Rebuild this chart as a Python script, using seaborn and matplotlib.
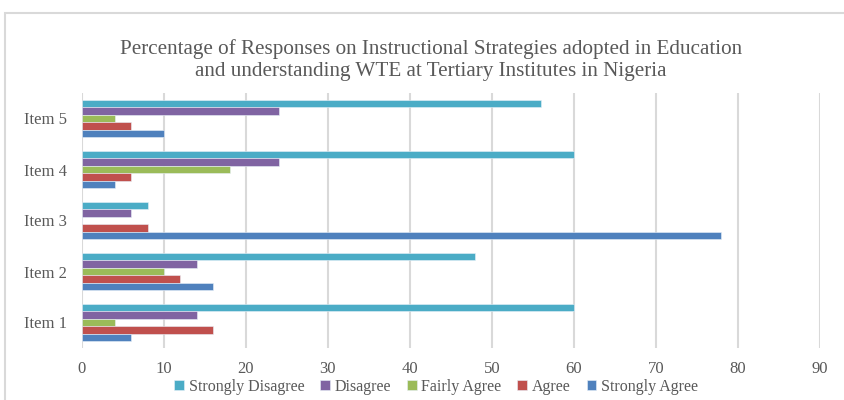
import pandas as pd
import matplotlib.pyplot as plt
import seaborn as sns
from matplotlib.patches import Rectangle

# data
items = ['Item 1', 'Item 2', 'Item 3', 'Item 4', 'Item 5']
responses = ['Strongly Disagree', 'Disagree', 'Fairly Agree', 'Agree', 'Strongly Agree']
strongly_agree = [6, 16, 78, 4, 10]
agree = [16, 12, 8, 6, 6]
fairly_agree = [4, 10, 0, 18, 4]
disagree = [14, 14, 6, 24, 24]
strongly_disagree = [60, 48, 8, 60, 56]
colors = ['#4BACC6', '#8064A2', '#9BBB59', '#C0504D', '#4F81BD']

series = {
    'Strongly Disagree': strongly_disagree,
    'Disagree': disagree,
    'Fairly Agree': fairly_agree,
    'Agree': agree,
    'Strongly Agree': strongly_agree,
}
rows = []
for resp, vals in series.items():
    for item, v in zip(items, vals):
        rows.append([item, resp, v])
df = pd.DataFrame(rows, columns=['Item', 'Response', 'Percent'])

sns.set_style('white')
plt.rcParams['font.family'] = ['Liberation Serif', 'DejaVu Serif']

fig = plt.figure(figsize=(8.45, 4), dpi=100)
ax = fig.add_axes([0.097, 0.13, 0.873, 0.6375])

sns.barplot(data=df, x='Percent', y='Item', hue='Response', orient='h',
            order=items[::-1], hue_order=responses, palette=colors, saturation=1,
            width=0.73, edgecolor='#E8F0F8', linewidth=0.4, ax=ax)

ax.set_xlim(0, 90)
ax.set_xticks(range(0, 91, 10))
ax.set_ylim(4.5, -0.5)
ax.grid(axis='x', color='#D9D9D9', linewidth=1.5)
ax.set_axisbelow(True)
for s in ax.spines.values():
    s.set_visible(False)
ax.tick_params(axis='both', length=0, labelsize=12, labelcolor='#595959')
ax.tick_params(axis='y', pad=11)
ax.tick_params(axis='x', pad=9.5)
ax.set_xlabel('')
ax.set_ylabel('')

ax.legend(loc='center', bbox_to_anchor=(0.48, -0.153), ncol=5, frameon=False,
          fontsize=11.5, handlelength=0.6, handleheight=0.6, handletextpad=0.3,
          columnspacing=1.0, labelcolor='#595959')

fig.text(0.51, 0.85, 'Percentage of Responses on Instructional Strategies adopted in Education\n'
         'and understanding WTE at Tertiary Institutes in Nigeria',
         ha='center', va='center', fontsize=15.2, color='#595959', linespacing=1.18)

fig.patches.append(Rectangle((5 / 845, -0.1), 1.2, 1 - 13 / 400 + 0.1, transform=fig.transFigure,
                             fill=False, edgecolor='#D9D9D9', linewidth=1.5, clip_on=False))

fig.savefig('out.png', dpi=100)
